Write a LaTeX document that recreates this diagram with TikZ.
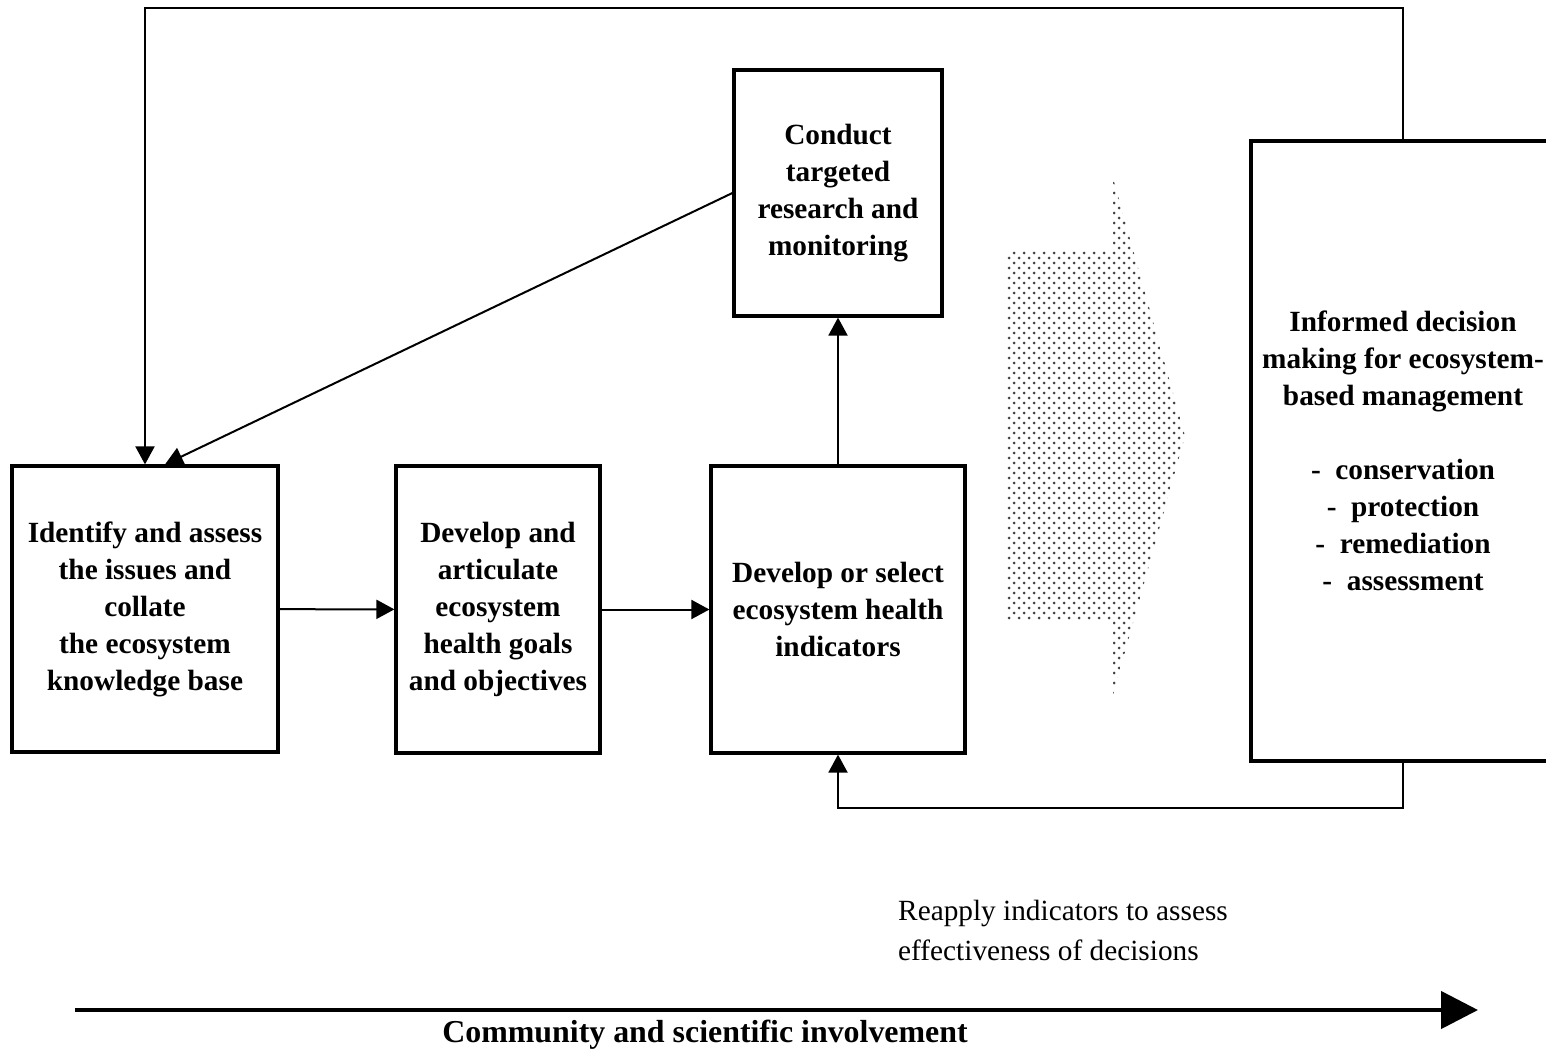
\documentclass[tikz,border=0pt]{standalone}
\usepackage{fontspec}
\setmainfont{Liberation Serif}
\usetikzlibrary{arrows.meta}
\begin{document}
\begin{tikzpicture}[x=1pt,y=-1pt,
  box/.style={draw,line width=3.2pt,align=center,inner sep=0pt,
    font=\bfseries\fontsize{29.3}{37}\selectfont},
  conn/.style={line width=2pt,-{Triangle[length=18pt,width=19pt]}},
  bigarrow/.style={line width=4.5pt,-{Triangle[length=37pt,width=37pt]}},
  dotfill/.style={fill=black!75}]
\useasboundingbox (0,0) rectangle (1546,1052);
% boxes
\node[box,minimum width=266pt,minimum height=286pt] (b1) at (145,609)
  {Identify and assess\\the issues and\\collate\\the ecosystem\\knowledge base};
\node[box,minimum width=204pt,minimum height=287pt] (b2) at (498,609.5)
  {Develop and\\articulate\\ecosystem\\health goals\\and objectives};
\node[box,minimum width=254pt,minimum height=287pt] (b3) at (838,609.5)
  {Develop or select\\ecosystem health\\indicators};
\node[box,minimum width=208pt,minimum height=246pt] (tb) at (838,193)
  {Conduct\\targeted\\research and\\monitoring};
\node[box,minimum width=304pt,minimum height=620pt] (rb) at (1403,451)
  {Informed decision\\making for ecosystem-\\based management\\[37pt]
   -~~conservation\\-~~protection\\-~~remediation\\-~~assessment};
% dotted arrow
\begin{scope}
\clip (1007,250) -- (1113,250) -- (1113,178) -- (1185,436) -- (1113,695)
  -- (1113,621) -- (1007,621) -- cycle;
\foreach \k in {0,...,104}{
  \foreach \j in {0,...,18}{
    \pgfmathsetmacro{\xx}{1009+10*\j+5*mod(\k,2)}
    \pgfmathsetmacro{\yy}{178+5*\k}
    \fill[dotfill] (\xx,\yy) circle[radius=1.5pt];
  }
}
\end{scope}
% connectors
\coordinate (tl) at (145,8);
\coordinate (bl) at (838,808);
\draw[conn] (rb.north) |- (tl) -- (b1.north);
\draw[conn] (rb.south) |- (bl) -- (b3.south);
\draw[conn] (tb.west) -- ([xshift=20pt]b1.north);
\draw[conn] (b1) -- (b2);
\draw[conn] (b2) -- (b3);
\draw[conn] (b3) -- (tb);
% texts
\node[anchor=west,align=left,inner sep=0pt,font=\fontsize{29.3}{40}\selectfont] (re) at (898,930)
  {Reapply indicators to assess\\effectiveness of decisions};
\coordinate (ca) at (75,1010);
\coordinate (cb) at (1478,1010);
\draw[bigarrow] (ca) -- (cb);
\node[inner sep=0pt,font=\bfseries\fontsize{31.9}{37}\selectfont] (lab) at (705,1035)
  {Community and scientific involvement};
\end{tikzpicture}
\end{document}
